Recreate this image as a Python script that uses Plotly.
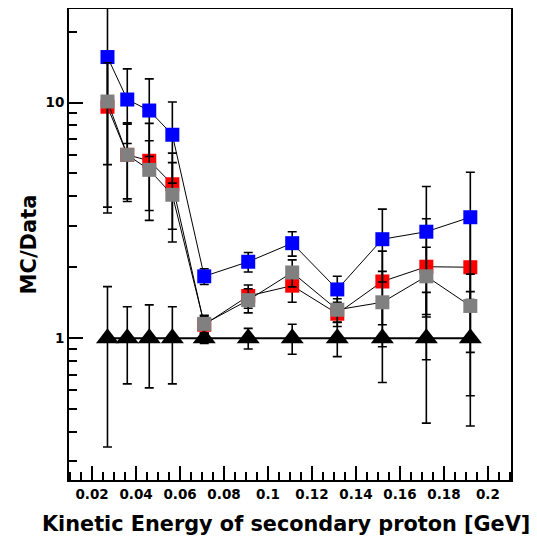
import plotly.graph_objects as go

# Kinetic energy bin centres [GeV]
energy = [0.027, 0.036, 0.046, 0.0565, 0.071, 0.091, 0.111, 0.1315, 0.152, 0.172, 0.192]

# MC/Data ratios
blue_vals = [15.6, 10.3, 9.25, 7.3, 1.83, 2.11, 2.53, 1.61, 2.63, 2.83, 3.26]
blue_err = [12.0, 3.6, 3.35, 2.75, 0.14, 0.2, 0.3, 0.22, 0.9, 1.57, 1.8]

red_vals = [9.6, 6.0, 5.66, 4.5, 1.14, 1.51, 1.67, 1.27, 1.74, 2.01, 2.0]
red_err = [6.2, 2.2, 2.5, 1.6, 0.1, 0.17, 0.25, 0.15, 0.6, 1.2, 1.43]

gray_vals = [10.1, 6.0, 5.18, 4.06, 1.15, 1.45, 1.9, 1.32, 1.42, 1.83, 1.37]
gray_err = [4.65, 2.1, 1.7, 1.5, 0.1, 0.17, 0.25, 0.15, 0.5, 0.6, 0.5]

data_vals = [1, 1, 1, 1, 1, 1, 1, 1, 1, 1, 1]
data_err = [0.655, 0.36, 0.385, 0.36, 0.05, 0.1, 0.145, 0.165, 0.352, 0.564, 0.576]

x_tick_vals = [0.02, 0.04, 0.06, 0.08, 0.1, 0.12, 0.14, 0.16, 0.18, 0.2]
x_tick_text = ["0.02", "0.04", "0.06", "0.08", "0.1", "0.12", "0.14", "0.16", "0.18", "0.2"]
y_tick_vals = [1, 10]
y_tick_text = ["1", "10"]
y_minor_vals = [0.3, 0.4, 0.5, 0.6, 0.7, 0.8, 0.9, 2, 3, 4, 5, 6, 7, 8, 9, 20]

FONT = "DejaVu Sans"


def err(e):
    return dict(type="data", array=e, visible=True, color="black", thickness=1.6, width=4.5)


fig = go.Figure()

fig.add_trace(go.Scatter(
    x=energy, y=data_vals, mode="lines+markers",
    line=dict(color="black", width=2),
    marker=dict(symbol="triangle-up", size=20, color="black"),
    error_y=err(data_err), showlegend=False))

fig.add_trace(go.Scatter(
    x=energy, y=red_vals, mode="lines+markers",
    line=dict(color="black", width=1),
    marker=dict(symbol="square", size=14, color="#ff0000"),
    error_y=err(red_err), showlegend=False))

fig.add_trace(go.Scatter(
    x=energy, y=blue_vals, mode="lines+markers",
    line=dict(color="black", width=1),
    marker=dict(symbol="square", size=14, color="#0000ff"),
    error_y=err(blue_err), showlegend=False))

fig.add_trace(go.Scatter(
    x=energy, y=gray_vals, mode="lines+markers",
    line=dict(color="black", width=1),
    marker=dict(symbol="square", size=14, color="#808080"),
    error_y=err(gray_err), showlegend=False))

fig.update_layout(
    width=529, height=531,
    margin=dict(l=61, r=26, t=1, b=59, autoexpand=False),
    paper_bgcolor="white", plot_bgcolor="white",
    font=dict(family=FONT, color="black"),
    xaxis=dict(
        range=[0.0095, 0.2105],
        tickmode="array", tickvals=x_tick_vals, ticktext=x_tick_text,
        ticks="inside", ticklen=14, tickwidth=1.5, tickcolor="black",
        minor=dict(ticks="inside", dtick=0.005, tick0=0, ticklen=8, tickwidth=1.5, tickcolor="black"),
        showline=True, linewidth=2, linecolor="black", mirror=True,
        showgrid=False, zeroline=False,
        tickfont=dict(family=FONT, size=13.5, color="black", weight="bold"),
        ticklabelstandoff=1,
    ),
    yaxis=dict(
        type="log", range=[-0.602, 1.397],
        tickmode="array", tickvals=y_tick_vals, ticktext=y_tick_text,
        ticks="inside", ticklen=14, tickwidth=1.5, tickcolor="black",
        minor=dict(ticks="inside", tickvals=y_minor_vals, ticklen=8, tickwidth=1.5, tickcolor="black"),
        showline=True, linewidth=2, linecolor="black", mirror=True,
        showgrid=False, zeroline=False,
        tickfont=dict(family=FONT, size=13.5, color="black", weight="bold"),
        ticklabelstandoff=0,
        title=dict(text="<b>MC/Data</b>",
                   font=dict(family=FONT, size=21, color="black"), standoff=3),
    ),
    annotations=[dict(
        text="<b>Kinetic Energy of secondary proton [GeV]</b>",
        xref="paper", yref="paper", x=0.492, y=-0.093,
        xanchor="center", yanchor="middle", showarrow=False,
        font=dict(family=FONT, size=20.8, color="black"),
    )],
)

fig.write_html("out.html")
